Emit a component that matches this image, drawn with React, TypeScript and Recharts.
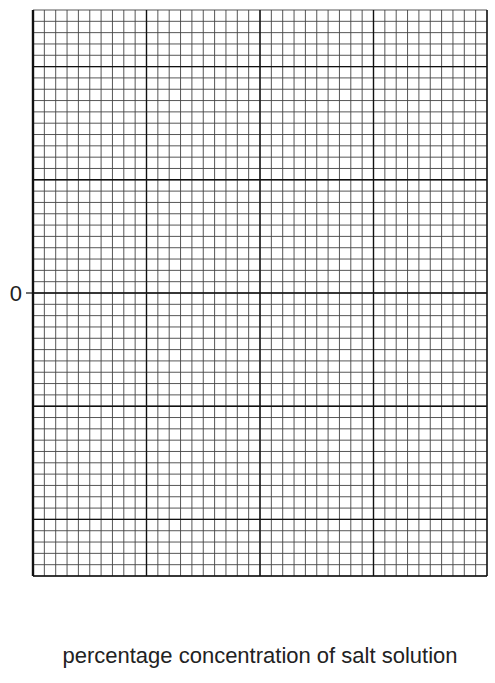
import React from 'react';
import { LineChart, XAxis, YAxis, ReferenceLine, Label } from 'recharts';

// graph paper: 40 small squares across, 50 down, bold every 10
const minorX = [
  0, 1, 2, 3, 4, 5, 6, 7, 8, 9, 10, 11, 12, 13, 14, 15, 16, 17, 18, 19, 20,
  21, 22, 23, 24, 25, 26, 27, 28, 29, 30, 31, 32, 33, 34, 35, 36, 37, 38, 39, 40,
];
const majorX = [10, 20, 30, 40];
const minorY = [
  -25, -24, -23, -22, -21, -20, -19, -18, -17, -16, -15, -14, -13, -12, -11, -10,
  -9, -8, -7, -6, -5, -4, -3, -2, -1, 0, 1, 2, 3, 4, 5, 6, 7, 8, 9, 10, 11, 12,
  13, 14, 15, 16, 17, 18, 19, 20, 21, 22, 23, 24, 25,
];
const majorY = [-20, -10, 0, 10, 20];
const yTicks = [0];
const xTitle = 'percentage concentration of salt solution';

const FONT = '"Liberation Sans", Arial, sans-serif';

export default function App() {
  return (
    <div style={{ position: 'absolute', left: 0, top: 0, background: '#fff' }}>
      <LineChart
        width={495}
        height={683}
        data={[]}
        margin={{ top: 10, right: 8, bottom: 0, left: 0 }}
        style={{ fontFamily: FONT }}
      >
        <XAxis
          type="number"
          dataKey="x"
          domain={[0, 40]}
          allowDataOverflow
          tick={false}
          tickLine={false}
          height={107}
          axisLine={{ stroke: '#111', strokeWidth: 1.6 }}
        >
          <Label
            value={xTitle}
            position="insideBottom"
            offset={20}
            fontSize={22}
            fill="#222"
            style={{ fontSize: 22, fill: '#222', fontFamily: FONT }}
          />
        </XAxis>
        <YAxis
          type="number"
          domain={[-25, 25]}
          allowDataOverflow
          ticks={yTicks}
          width={33}
          tickSize={7}
          tickMargin={4}
          tick={{ fontSize: 22, fill: '#222', fontFamily: FONT }}
          tickLine={{ stroke: '#111', strokeWidth: 1.2 }}
          axisLine={{ stroke: '#111', strokeWidth: 2.4 }}
        />
        {minorX.map((v) => (
          <ReferenceLine key={'mx' + v} x={v} stroke="#444" strokeWidth={0.9} />
        ))}
        {minorY.map((v) => (
          <ReferenceLine key={'my' + v} y={v} stroke="#444" strokeWidth={0.9} />
        ))}
        {majorX.map((v) => (
          <ReferenceLine key={'Mx' + v} x={v} stroke="#111" strokeWidth={1.4} />
        ))}
        {majorY.map((v) => (
          <ReferenceLine key={'My' + v} y={v} stroke="#111" strokeWidth={1.4} />
        ))}
      </LineChart>
    </div>
  );
}
